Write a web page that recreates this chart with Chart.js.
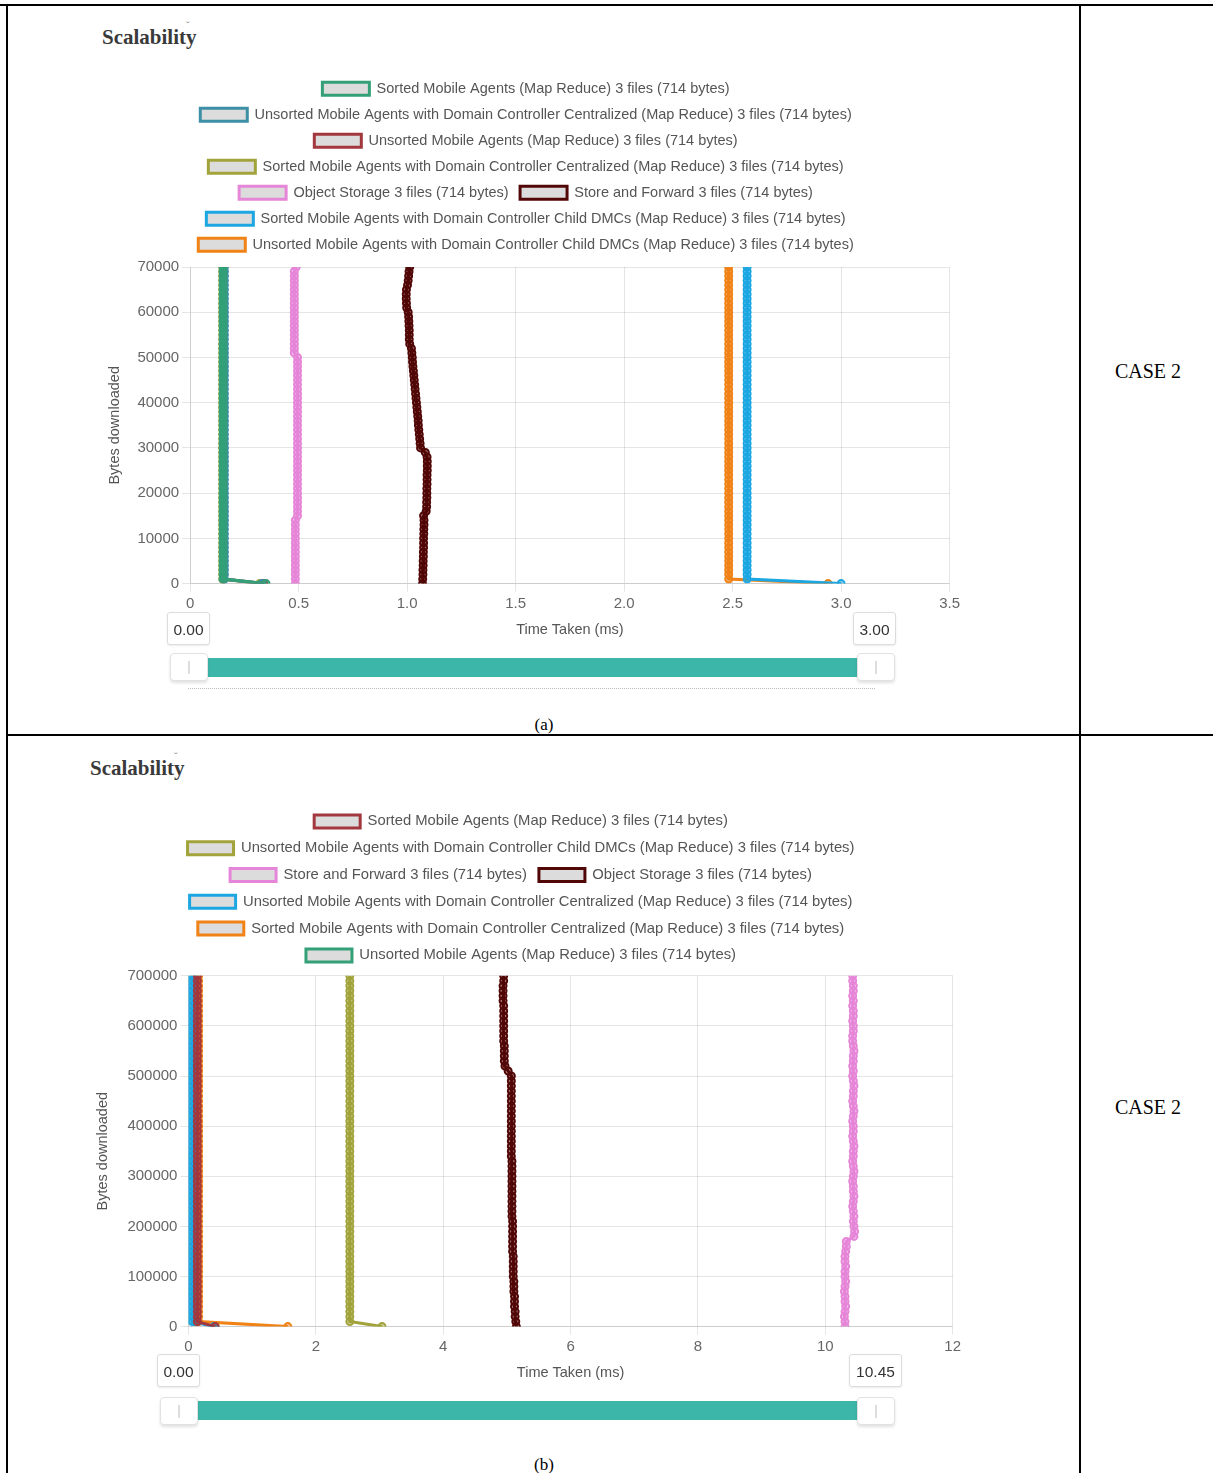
<!DOCTYPE html>
<html>
<head>
<meta charset="utf-8">
<title>Scalability - Case 2</title>
<script src="https://cdn.jsdelivr.net/npm/chart.js@4.4.1/dist/chart.umd.min.js"></script>
<style>
  body { margin: 0; width: 1213px; height: 1473px; background: #fff; position: relative; overflow: hidden; font-family: 'Liberation Sans', Arial, sans-serif; }
  .rule { position: absolute; background: #000; }
  .titulo { position: absolute; font-family: 'Liberation Serif', 'Times New Roman', serif; font-weight: bold; font-size: 21px; color: #3a3a3a; }
  .caret { position: absolute; font-size: 11px; color: #888; }
  .caso { position: absolute; font-family: 'Liberation Serif', 'Times New Roman', serif; font-size: 20px; color: #000; width: 120px; text-align: center; }
  .legenda { position: absolute; font-family: 'Liberation Serif', 'Times New Roman', serif; font-size: 17px; color: #000; width: 60px; text-align: center; }
  canvas { position: absolute; }
  .caixa { position: absolute; height: 33px; border: 1px solid #dcdcdc; border-radius: 3px; background: #fff; box-shadow: 0 1px 2px rgba(0,0,0,0.08); font-size: 15.5px; color: #333; line-height: 33px; text-align: center; box-sizing: border-box; }
  .barra { position: absolute; height: 19px; background: #3cb6a9; }
  .alca { position: absolute; width: 38px; height: 28px; border: 1px solid #e2e2e2; border-radius: 4px; background: #fff; box-shadow: 0 2px 3px rgba(0,0,0,0.12); box-sizing: border-box; }
  .alca::after { content: ''; position: absolute; left: 17px; top: 7px; width: 2px; height: 13px; border-left: 1px solid #ddd; border-right: 1px solid #ddd; box-sizing: border-box; }
  .pontilhado { position: absolute; height: 0; border-top: 1px dotted #bdbdbd; }
</style>
</head>
<body>

<!-- tabela -->
<div class="rule" style="left:0; top:4px; width:1213px; height:2px;"></div>
<div class="rule" style="left:6px; top:4px; width:2px; height:1469px;"></div>
<div class="rule" style="left:1079px; top:4px; width:2px; height:1469px;"></div>
<div class="rule" style="left:6px; top:734px; width:1207px; height:2px;"></div>

<div class="titulo" style="left:102px; top:25px;">Scalability</div>
<div class="caret" style="left:186px; top:20px;">ˇ</div>
<div class="titulo" style="left:90px; top:756px;">Scalability</div>
<div class="caret" style="left:174px; top:751px;">ˇ</div>

<div class="caso" style="left:1088px; top:360px;">CASE 2</div>
<div class="caso" style="left:1088px; top:1096px;">CASE 2</div>

<canvas id="graficoA" width="874" height="573" style="left:89px; top:70px; width:874px; height:573px;"></canvas>
<canvas id="graficoB" width="886" height="584" style="left:78px; top:802px; width:886px; height:584px;"></canvas>

<!-- slider (a) -->
<div class="caixa" style="left:167px; top:612px; width:43px;">0.00</div>
<div class="caixa" style="left:853px; top:612px; width:43px;">3.00</div>
<div class="barra" style="left:200px; top:658px; width:665px;"></div>
<div class="alca" style="left:170px; top:653px;"></div>
<div class="alca" style="left:857px; top:653px;"></div>
<div class="pontilhado" style="left:188px; top:688px; width:687px;"></div>
<div class="legenda" style="left:514px; top:715px;">(a)</div>

<!-- slider (b) -->
<div class="caixa" style="left:157px; top:1354px; width:43px;">0.00</div>
<div class="caixa" style="left:849px; top:1354px; width:53px;">10.45</div>
<div class="barra" style="left:190px; top:1401px; width:675px;"></div>
<div class="alca" style="left:160px; top:1397px;"></div>
<div class="alca" style="left:857px; top:1397px;"></div>
<div class="legenda" style="left:514px; top:1455px;">(b)</div>

<script>
// bytes baixados (eixo y)
const bytesA = [0,1000,2000,3000,4000,5000,6000,7000,8000,9000,10000,
  11000,12000,13000,14000,15000,16000,17000,18000,19000,20000,
  21000,22000,23000,24000,25000,26000,27000,28000,29000,30000,
  31000,32000,33000,34000,35000,36000,37000,38000,39000,40000,
  41000,42000,43000,44000,45000,46000,47000,48000,49000,50000,
  51000,52000,53000,54000,55000,56000,57000,58000,59000,60000,
  61000,62000,63000,64000,65000,66000,67000,68000,69000,70000];

const bytesB = [0,10000,20000,30000,40000,50000,60000,70000,80000,90000,100000,
  110000,120000,130000,140000,150000,160000,170000,180000,190000,200000,
  210000,220000,230000,240000,250000,260000,270000,280000,290000,300000,
  310000,320000,330000,340000,350000,360000,370000,380000,390000,400000,
  410000,420000,430000,440000,450000,460000,470000,480000,490000,500000,
  510000,520000,530000,540000,550000,560000,570000,580000,590000,600000,
  610000,620000,630000,640000,650000,660000,670000,680000,690000,700000];

// tempos (ms) - grafico (a)
const tSortedMA_A = [0.35,0.152,0.152,0.152,0.152,0.152,0.152,0.152,0.152,0.152,0.152,
  0.152,0.152,0.152,0.152,0.152,0.152,0.152,0.152,0.152,0.152,
  0.152,0.152,0.152,0.152,0.152,0.152,0.152,0.152,0.152,0.152,
  0.152,0.152,0.152,0.152,0.152,0.152,0.152,0.152,0.152,0.152,
  0.152,0.152,0.152,0.152,0.152,0.152,0.152,0.152,0.152,0.152,
  0.152,0.152,0.152,0.152,0.152,0.152,0.152,0.152,0.152,0.152,
  0.152,0.152,0.152,0.152,0.152,0.152,0.152,0.152,0.152,0.152];
const tUnsortedDCCent_A = [0.33,0.158,0.158,0.158,0.158,0.158,0.158,0.158,0.158,0.158,0.158,
  0.158,0.158,0.158,0.158,0.158,0.158,0.158,0.158,0.158,0.158,
  0.158,0.158,0.158,0.158,0.158,0.158,0.158,0.158,0.158,0.158,
  0.158,0.158,0.158,0.158,0.158,0.158,0.158,0.158,0.158,0.158,
  0.158,0.158,0.158,0.158,0.158,0.158,0.158,0.158,0.158,0.158,
  0.158,0.158,0.158,0.158,0.158,0.158,0.158,0.158,0.158,0.158,
  0.158,0.158,0.158,0.158,0.158,0.158,0.158,0.158,0.158,0.158];
const tUnsortedMA_A = [0.34,0.155,0.155,0.155,0.155,0.155,0.155,0.155,0.155,0.155,0.155,
  0.155,0.155,0.155,0.155,0.155,0.155,0.155,0.155,0.155,0.155,
  0.155,0.155,0.155,0.155,0.155,0.155,0.155,0.155,0.155,0.155,
  0.155,0.155,0.155,0.155,0.155,0.155,0.155,0.155,0.155,0.155,
  0.155,0.155,0.155,0.155,0.155,0.155,0.155,0.155,0.155,0.155,
  0.155,0.155,0.155,0.155,0.155,0.155,0.155,0.155,0.155,0.155,
  0.155,0.155,0.155,0.155,0.155,0.155,0.155,0.155,0.155,0.155];
const tSortedDCCent_A = [0.32,0.15,0.15,0.15,0.15,0.15,0.15,0.15,0.15,0.15,0.15,
  0.15,0.15,0.15,0.15,0.15,0.15,0.15,0.15,0.15,0.15,
  0.15,0.15,0.15,0.15,0.15,0.15,0.15,0.15,0.15,0.15,
  0.15,0.15,0.15,0.15,0.15,0.15,0.15,0.15,0.15,0.15,
  0.15,0.15,0.15,0.15,0.15,0.15,0.15,0.15,0.15,0.15,
  0.15,0.15,0.15,0.15,0.15,0.15,0.15,0.15,0.15,0.15,
  0.15,0.15,0.15,0.15,0.15,0.15,0.15,0.15,0.15,0.15];
const tObjectStorage_A = [0.485,0.485,0.485,0.485,0.485,0.485,0.485,0.485,0.485,0.485,0.485,
  0.485,0.485,0.485,0.485,0.495,0.495,0.495,0.495,0.495,0.495,
  0.495,0.495,0.495,0.495,0.495,0.495,0.495,0.495,0.495,0.495,
  0.495,0.495,0.495,0.495,0.495,0.495,0.495,0.495,0.495,0.495,
  0.495,0.495,0.495,0.495,0.495,0.495,0.495,0.495,0.495,0.495,
  0.48,0.48,0.48,0.48,0.48,0.48,0.48,0.48,0.48,0.48,
  0.48,0.48,0.48,0.48,0.48,0.48,0.48,0.48,0.48,0.489];
const tStoreForward_A = [1.071,1.072,1.073,1.073,1.074,1.074,1.075,1.075,1.076,1.076,1.076,
  1.077,1.077,1.078,1.078,1.076,1.088,1.09,1.09,1.091,1.091,
  1.091,1.092,1.092,1.092,1.093,1.093,1.093,1.092,1.084,1.062,
  1.06,1.058,1.056,1.054,1.052,1.051,1.049,1.047,1.045,1.043,
  1.041,1.039,1.037,1.035,1.033,1.031,1.029,1.027,1.025,1.024,
  1.022,1.02,1.012,1.01,1.01,1.01,1.009,1.008,1.007,1.005,
  0.998,0.997,0.996,0.996,0.997,1.002,1.005,1.007,1.009,1.012];
const tSortedDCChild_A = [3.0,2.567,2.567,2.567,2.567,2.567,2.567,2.567,2.567,2.567,2.567,
  2.567,2.567,2.567,2.567,2.567,2.567,2.567,2.567,2.567,2.567,
  2.567,2.567,2.567,2.567,2.567,2.567,2.567,2.567,2.567,2.567,
  2.567,2.567,2.567,2.567,2.567,2.567,2.567,2.567,2.567,2.567,
  2.567,2.567,2.567,2.567,2.567,2.567,2.567,2.567,2.567,2.567,
  2.567,2.567,2.567,2.567,2.567,2.567,2.567,2.567,2.567,2.567,
  2.567,2.567,2.567,2.567,2.567,2.567,2.567,2.567,2.567,2.567];
const tUnsortedDCChild_A = [2.94,2.482,2.482,2.482,2.482,2.482,2.482,2.482,2.482,2.482,2.482,
  2.482,2.482,2.482,2.482,2.482,2.482,2.482,2.482,2.482,2.482,
  2.482,2.482,2.482,2.482,2.482,2.482,2.482,2.482,2.482,2.482,
  2.482,2.482,2.482,2.482,2.482,2.482,2.482,2.482,2.482,2.482,
  2.482,2.482,2.482,2.482,2.482,2.482,2.482,2.482,2.482,2.482,
  2.482,2.482,2.482,2.482,2.482,2.482,2.482,2.482,2.482,2.482,
  2.482,2.482,2.482,2.482,2.482,2.482,2.482,2.482,2.482,2.482];

// tempos (ms) - grafico (b)
const tSortedMA_B = [0.42,0.14,0.14,0.14,0.14,0.14,0.14,0.14,0.14,0.14,0.14,
  0.14,0.14,0.14,0.14,0.14,0.14,0.14,0.14,0.14,0.14,
  0.14,0.14,0.14,0.14,0.14,0.14,0.14,0.14,0.14,0.14,
  0.14,0.14,0.14,0.14,0.14,0.14,0.14,0.14,0.14,0.14,
  0.14,0.14,0.14,0.14,0.14,0.14,0.14,0.14,0.14,0.14,
  0.14,0.14,0.14,0.14,0.14,0.14,0.14,0.14,0.14,0.14,
  0.14,0.14,0.14,0.14,0.14,0.14,0.14,0.14,0.14,0.14];
const tUnsortedDCChild_B = [3.04,2.534,2.534,2.534,2.534,2.534,2.534,2.534,2.534,2.534,2.534,
  2.534,2.534,2.534,2.534,2.534,2.534,2.534,2.534,2.534,2.534,
  2.534,2.534,2.534,2.534,2.534,2.534,2.534,2.534,2.534,2.534,
  2.534,2.534,2.534,2.534,2.534,2.534,2.534,2.534,2.534,2.534,
  2.534,2.534,2.534,2.534,2.534,2.534,2.534,2.534,2.534,2.534,
  2.534,2.534,2.534,2.534,2.534,2.534,2.534,2.534,2.534,2.534,
  2.534,2.534,2.534,2.534,2.534,2.534,2.534,2.534,2.534,2.534];
const tStoreForward_B = [10.31,10.31,10.30,10.31,10.32,10.31,10.31,10.30,10.31,10.32,10.31,
  10.31,10.32,10.31,10.31,10.32,10.33,10.33,10.45,10.46,10.45,
  10.44,10.45,10.44,10.43,10.44,10.45,10.44,10.44,10.43,10.44,
  10.45,10.44,10.43,10.44,10.44,10.45,10.44,10.43,10.44,10.44,
  10.43,10.44,10.45,10.44,10.43,10.44,10.44,10.45,10.44,10.43,
  10.44,10.43,10.44,10.44,10.45,10.44,10.43,10.43,10.44,10.44,
  10.43,10.44,10.44,10.43,10.44,10.43,10.44,10.44,10.43,10.43];
const tObjectStorage_B = [5.15,5.14,5.13,5.13,5.12,5.12,5.12,5.11,5.11,5.11,5.10,
  5.10,5.10,5.10,5.10,5.09,5.09,5.09,5.09,5.09,5.09,
  5.09,5.08,5.08,5.08,5.08,5.08,5.08,5.08,5.08,5.08,
  5.08,5.08,5.08,5.07,5.07,5.07,5.07,5.07,5.07,5.07,
  5.07,5.07,5.07,5.07,5.07,5.07,5.07,5.07,5.07,5.07,
  5.02,4.97,4.96,4.96,4.96,4.96,4.95,4.95,4.95,4.95,
  4.95,4.95,4.95,4.95,4.94,4.94,4.94,4.94,4.95,4.95];
const tUnsortedDCCent_B = [0.40,0.06,0.06,0.06,0.06,0.06,0.06,0.06,0.06,0.06,0.06,
  0.06,0.06,0.06,0.06,0.06,0.06,0.06,0.06,0.06,0.06,
  0.06,0.06,0.06,0.06,0.06,0.06,0.06,0.06,0.06,0.06,
  0.06,0.06,0.06,0.06,0.06,0.06,0.06,0.06,0.06,0.06,
  0.06,0.06,0.06,0.06,0.06,0.06,0.06,0.06,0.06,0.06,
  0.06,0.06,0.06,0.06,0.06,0.06,0.06,0.06,0.06,0.06,
  0.06,0.06,0.06,0.06,0.06,0.06,0.06,0.06,0.06,0.06];
const tSortedDCCent_B = [1.56,0.16,0.16,0.16,0.16,0.16,0.16,0.16,0.16,0.16,0.16,
  0.16,0.16,0.16,0.16,0.16,0.16,0.16,0.16,0.16,0.16,
  0.16,0.16,0.16,0.16,0.16,0.16,0.16,0.16,0.16,0.16,
  0.16,0.16,0.16,0.16,0.16,0.16,0.16,0.16,0.16,0.16,
  0.16,0.16,0.16,0.16,0.16,0.16,0.16,0.16,0.16,0.16,
  0.16,0.16,0.16,0.16,0.16,0.16,0.16,0.16,0.16,0.16,
  0.16,0.16,0.16,0.16,0.16,0.16,0.16,0.16,0.16,0.16];
const tUnsortedMA_B = [0.42,0.10,0.10,0.10,0.10,0.10,0.10,0.10,0.10,0.10,0.10,
  0.10,0.10,0.10,0.10,0.10,0.10,0.10,0.10,0.10,0.10,
  0.10,0.10,0.10,0.10,0.10,0.10,0.10,0.10,0.10,0.10,
  0.10,0.10,0.10,0.10,0.10,0.10,0.10,0.10,0.10,0.10,
  0.10,0.10,0.10,0.10,0.10,0.10,0.10,0.10,0.10,0.10,
  0.10,0.10,0.10,0.10,0.10,0.10,0.10,0.10,0.10,0.10,
  0.10,0.10,0.10,0.10,0.10,0.10,0.10,0.10,0.10,0.10];

// nomes das series
const nomeSortedMA = "Sorted Mobile Agents (Map Reduce) 3 files (714 bytes)";
const nomeUnsortedMA = "Unsorted Mobile Agents (Map Reduce) 3 files (714 bytes)";
const nomeUnsortedDCCent = "Unsorted Mobile Agents with Domain Controller Centralized (Map Reduce) 3 files (714 bytes)";
const nomeSortedDCCent = "Sorted Mobile Agents with Domain Controller Centralized (Map Reduce) 3 files (714 bytes)";
const nomeObjectStorage = "Object Storage 3 files (714 bytes)";
const nomeStoreForward = "Store and Forward 3 files (714 bytes)";
const nomeSortedDCChild = "Sorted Mobile Agents with Domain Controller Child DMCs (Map Reduce) 3 files (714 bytes)";
const nomeUnsortedDCChild = "Unsorted Mobile Agents with Domain Controller Child DMCs (Map Reduce) 3 files (714 bytes)";

const cores = {
    verde: '#33a077',
    azulEscuro: '#3d8fa6',
    vermelho: '#a3373e',
    oliva: '#a2a43b',
    rosa: '#e686d8',
    marrom: '#520707',
    azul: '#1da7e2',
    laranja: '#f08216'
};

Chart.defaults.font.family = "'Liberation Sans', Arial, sans-serif";
Chart.defaults.color = '#666';

function pontos(xs, ys) {
    return xs.map((x, i) => ({ x: x, y: ys[i] }));
}

function serie(nome, cor, xs, ys) {
    return {
        label: nome,
        data: pontos(xs, ys),
        borderColor: cor,
        backgroundColor: '#dcdcdc',
        borderWidth: 3,
        pointRadius: 3.5,
        pointBorderWidth: 2,
        pointBackgroundColor: cor + '88',
        tension: 0,
        fill: false
    };
}

// espaco extra entre a legenda e a area do grafico
function espacoLegenda(px) {
    return {
        id: 'espacoLegenda',
        beforeInit(chart) {
            const fitOriginal = chart.legend.fit;
            chart.legend.fit = function () {
                fitOriginal.call(this);
                this.height += px;
            };
        }
    };
}

function opcoes(cfg) {
    return {
        responsive: false,
        maintainAspectRatio: false,
        animation: false,
        devicePixelRatio: 1,
        layout: { padding: 0 },
        plugins: {
            legend: {
                position: 'top',
                labels: {
                    font: { size: cfg.fonteLegenda },
                    boxWidth: cfg.caixa,
                    boxHeight: 13,
                    padding: cfg.espacoLinhas,
                    color: '#555'
                }
            },
            tooltip: { enabled: false }
        },
        scales: {
            x: {
                type: 'linear',
                min: 0,
                max: cfg.xMax,
                ticks: { stepSize: cfg.xPasso, font: { size: 15 }, color: '#666' },
                title: { display: true, text: 'Time Taken (ms)', font: { size: 14.5 }, color: '#555', padding: { top: 6, bottom: 4 } }
            },
            y: {
                min: 0,
                max: cfg.yMax,
                ticks: { stepSize: cfg.yPasso, font: { size: 15 }, color: '#666', callback: v => String(v) },
                title: { display: true, text: 'Bytes downloaded', font: { size: 14.5 }, color: '#555', padding: cfg.paddingTituloY }
            }
        }
    };
}

new Chart(document.getElementById('graficoA'), {
    type: 'line',
    data: {
        datasets: [
            serie(nomeSortedMA, cores.verde, tSortedMA_A, bytesA),
            serie(nomeUnsortedDCCent, cores.azulEscuro, tUnsortedDCCent_A, bytesA),
            serie(nomeUnsortedMA, cores.vermelho, tUnsortedMA_A, bytesA),
            serie(nomeSortedDCCent, cores.oliva, tSortedDCCent_A, bytesA),
            serie(nomeObjectStorage, cores.rosa, tObjectStorage_A, bytesA),
            serie(nomeStoreForward, cores.marrom, tStoreForward_A, bytesA),
            serie(nomeSortedDCChild, cores.azul, tSortedDCChild_A, bytesA),
            serie(nomeUnsortedDCChild, cores.laranja, tUnsortedDCChild_A, bytesA)
        ]
    },
    options: opcoes({ fonteLegenda: 14.5, caixa: 47, espacoLinhas: 11.5, xMax: 3.5, xPasso: 0.5, yMax: 70000, yPasso: 10000, paddingTituloY: { top: 17, bottom: 11 } }),
    plugins: [espacoLegenda(5)]
});

new Chart(document.getElementById('graficoB'), {
    type: 'line',
    data: {
        datasets: [
            serie(nomeSortedMA, cores.vermelho, tSortedMA_B, bytesB),
            serie(nomeUnsortedDCChild, cores.oliva, tUnsortedDCChild_B, bytesB),
            serie(nomeStoreForward, cores.rosa, tStoreForward_B, bytesB),
            serie(nomeObjectStorage, cores.marrom, tObjectStorage_B, bytesB),
            serie(nomeUnsortedDCCent, cores.azul, tUnsortedDCCent_B, bytesB),
            serie(nomeSortedDCCent, cores.laranja, tSortedDCCent_B, bytesB),
            serie(nomeUnsortedMA, cores.verde, tUnsortedMA_B, bytesB)
        ]
    },
    options: opcoes({ fonteLegenda: 14.8, caixa: 46, espacoLinhas: 12, xMax: 12, xPasso: 2, yMax: 700000, yPasso: 100000, paddingTituloY: { top: 16, bottom: 13 } }),
    plugins: [espacoLegenda(3)]
});
</script>
</body>
</html>
